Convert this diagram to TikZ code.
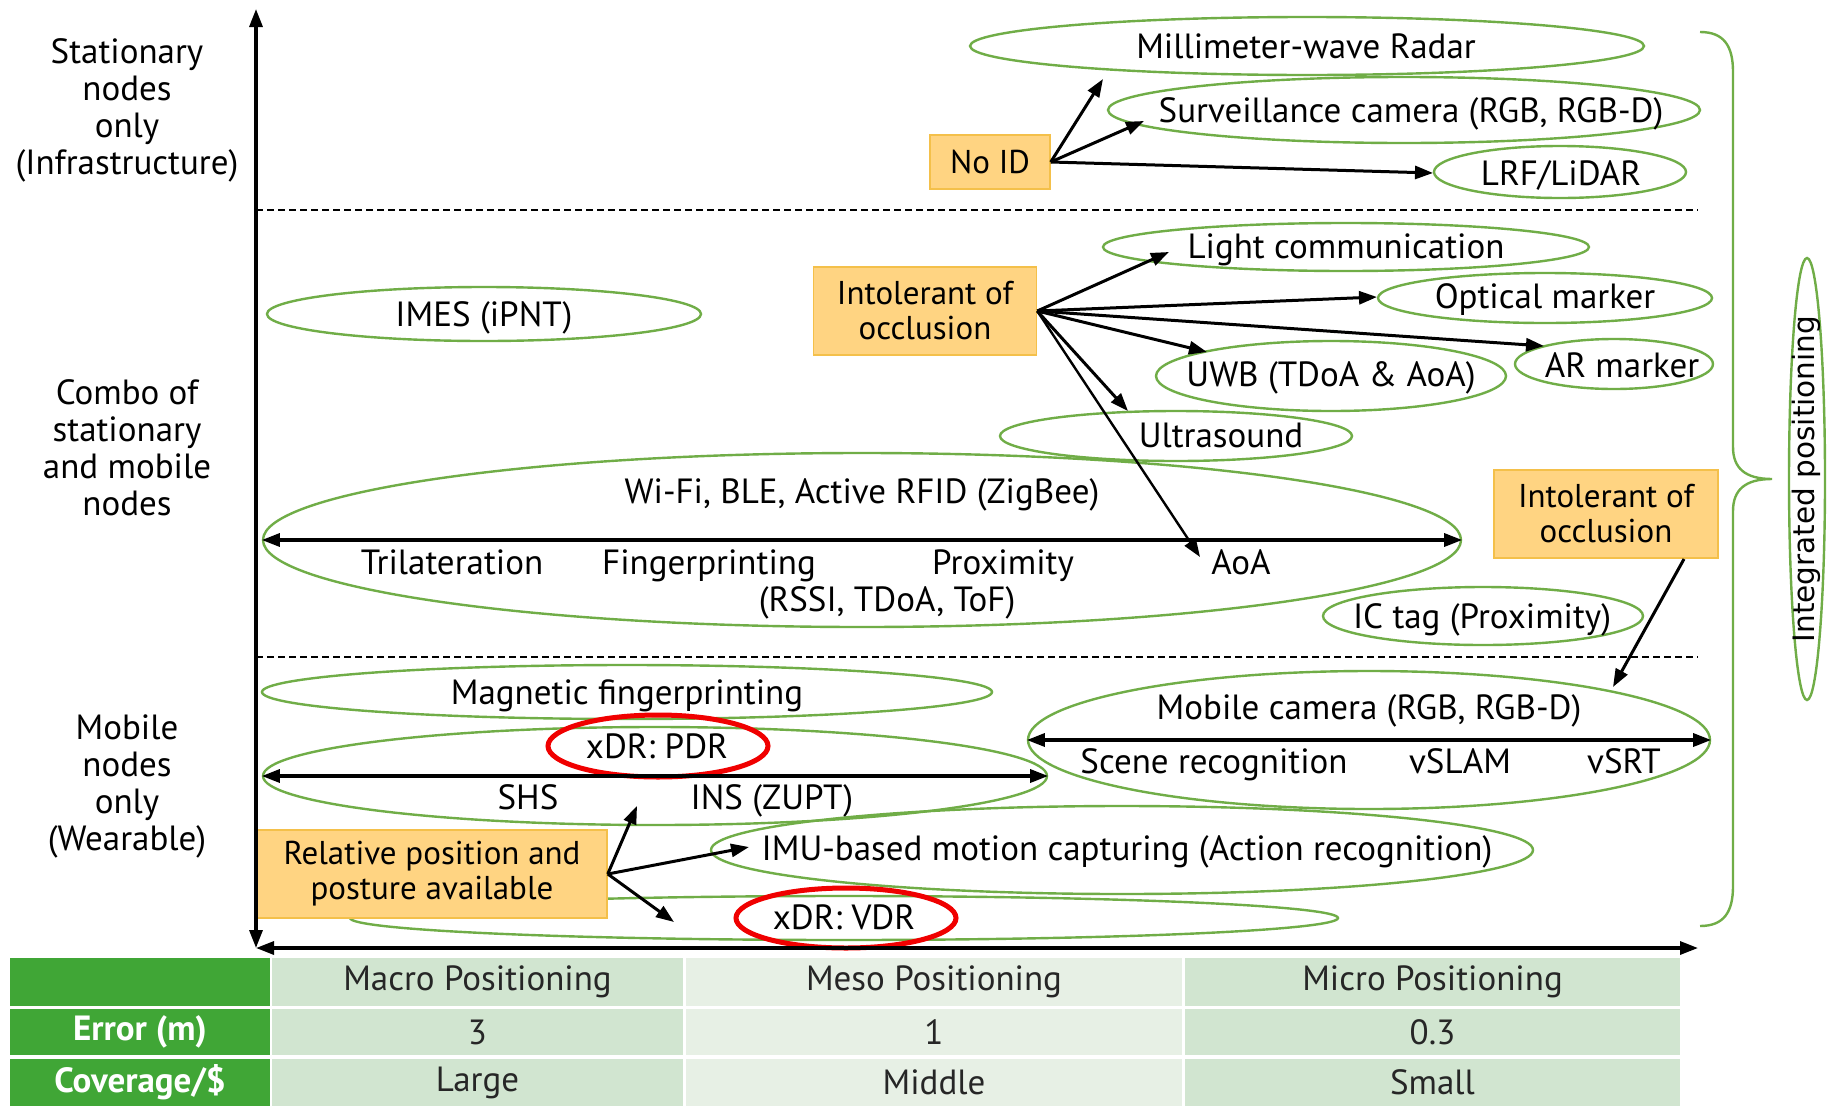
\documentclass[tikz,border=0pt]{standalone}
\usepackage{fontspec}
\setmainfont{PT Sans}
\newfontfamily\vfont{DejaVu Sans}
\usetikzlibrary{arrows.meta,shapes.geometric}
\definecolor{ogreen}{HTML}{70AD47}
\definecolor{boxfill}{HTML}{FFD482}
\definecolor{boxdraw}{HTML}{F4C04A}
\definecolor{tgreen}{HTML}{40A636}
\definecolor{tcellA}{HTML}{D1E5D0}
\definecolor{tcellB}{HTML}{E7F0E5}
\definecolor{redring}{HTML}{F00000}
\definecolor{ttext}{HTML}{262626}
\newcommand\mainsz{\fontsize{35}{37}\selectfont}
\newcommand\boxsz{\fontsize{33}{35}\selectfont}
\newcommand\vertsz{\fontsize{29.5}{34}\selectfont}
\begin{document}
\begin{tikzpicture}[x=1pt,y=-1pt,
  oval/.style={draw=ogreen,line width=2.4pt,ellipse,inner sep=0pt},
  redoval/.style={draw=redring,line width=5pt,ellipse,inner sep=0pt},
  lbl/.style={inner sep=0pt,font=\mainsz,align=center},
  txt/.style={inner sep=0pt,font=\mainsz,text height=24pt,text depth=0pt},
  obox/.style={fill=boxfill,draw=boxdraw,line width=1.5pt,inner sep=0pt,align=center,font=\boxsz},
  conn/.style={-{Triangle[length=18pt,width=13pt]},line width=3pt},
  dbl/.style={{Triangle[length=18pt,width=13pt]}-{Triangle[length=18pt,width=13pt]},line width=3.2pt},
  sep/.style={dashed,dash pattern=on 7pt off 4pt,line width=2pt},
  cellG/.style={fill=tgreen,inner sep=0pt,text=white,font=\mainsz\bfseries},
  cellA/.style={fill=tcellA,inner sep=0pt,text=ttext,font=\mainsz},
  cellB/.style={fill=tcellB,inner sep=0pt,text=ttext,font=\mainsz}]
\useasboundingbox[fill=white] (0,0) rectangle (1839,1106);

% ---------- left labels ----------
\node[lbl] (lab1) at (127,110) {Stationary\\nodes\\only\\(Infrastructure)};
\node[lbl] (lab2) at (127,448) {Combo of\\stationary\\and mobile\\nodes};
\node[lbl] (lab3) at (127,786) {Mobile\\nodes\\only\\(Wearable)};

% ---------- ellipses ----------
\node[oval,minimum width=674pt,minimum height=58pt] (radar) at (1307,46) {};
\node[oval,minimum width=592pt,minimum height=66pt] (surv) at (1404,110) {};
\node[oval,minimum width=252pt,minimum height=52pt] (lidar) at (1560,172) {};
\node[oval,minimum width=486pt,minimum height=48pt] (light) at (1346,247) {};
\node[oval,minimum width=334pt,minimum height=50pt] (optic) at (1545,298) {};
\node[oval,minimum width=198pt,minimum height=50pt] (armk) at (1614,364) {};
\node[oval,minimum width=350pt,minimum height=70pt] (uwb) at (1331,376) {};
\node[oval,minimum width=352pt,minimum height=50pt] (ultra) at (1176,436) {};
\node[oval,minimum width=434pt,minimum height=54pt] (imes) at (484,314) {};
\node[oval,minimum width=1198pt,minimum height=174pt] (wifi) at (862,540) {};
\node[oval,minimum width=320pt,minimum height=58pt] (ictag) at (1483,616) {};
\node[oval,minimum width=730pt,minimum height=54pt] (magn) at (627,692) {};
\node[oval,minimum width=682pt,minimum height=138pt] (mcam) at (1369,740) {};
\node[oval,minimum width=784pt,minimum height=98pt] (pdr) at (655,776) {};
\node[oval,minimum width=822pt,minimum height=88pt] (imu) at (1122,850) {};
\node[oval,minimum width=988pt,minimum height=44pt] (vdr) at (844,918) {};
\node[oval,minimum width=36pt,minimum height=442pt] (integ) at (1807,479) {};

% ---------- ellipse texts ----------
\node[txt] (radart) at (1306,46) {Millimeter-wave Radar};
\node[txt] (survt) at (1411,110) {Surveillance camera (RGB, RGB-D)};
\node[txt] (lidart) at (1561,173) {LRF/LiDAR};
\node[txt] (lightt) at (1346,246) {Light communication};
\node[txt] (optict) at (1545,296) {Optical marker};
\node[txt] (armkt) at (1622,365) {AR marker};
\node[txt] (uwbt) at (1331,374) {UWB (TDoA \& AoA)};
\node[txt] (ultrat) at (1221,435) {Ultrasound};
\node[txt] (imest) at (484,314) {IMES (iPNT)};
\node[txt] (wifit) at (862,491) {Wi-Fi, BLE, Active RFID (ZigBee)};
\node[txt] (trit) at (452,562) {Trilateration};
\node[txt] (fpt) at (709,562) {Fingerprinting};
\node[txt] (proxt) at (1003,562) {Proximity};
\node[txt] (aoat) at (1241,562) {AoA};
\node[txt] (rssit) at (887,599) {(RSSI, TDoA, ToF)};
\node[txt] (ictagt) at (1482,616) {IC tag (Proximity)};
\node[txt] (magnt) at (627,692) {Magnetic fingerprinting};
\node[txt] (mcamt) at (1369,707) {Mobile camera (RGB, RGB-D)};
\node[txt] (scenet) at (1214,761) {Scene recognition};
\node[txt] (vslamt) at (1460,761) {vSLAM};
\node[txt] (vsrtt) at (1624,761) {vSRT};
\node[txt] (pdrt) at (657,746) {xDR: PDR};
\node[txt] (shst) at (528,797) {SHS};
\node[txt] (inst) at (772,797) {INS (ZUPT)};
\node[txt] (imut) at (1127,848) {IMU-based motion capturing (Action recognition)};
\node[txt] (vdrt) at (844,917) {xDR: VDR};
\node[inner sep=0pt,font=\vfont\vertsz,rotate=90] (integt) at (1806,479) {Integrated positioning};

% ---------- red rings ----------
\node[redoval,minimum width=220pt,minimum height=62pt] (pdrring) at (658,746) {};
\node[redoval,minimum width=220pt,minimum height=60pt] (vdrring) at (846,918) {};

% ---------- orange boxes ----------
\node[obox,minimum width=120pt,minimum height=54pt] (noid) at (990,162) {No ID};
\node[obox,minimum width=223pt,minimum height=88pt] (occ1) at (925,311) {Intolerant of\\occlusion};
\node[obox,minimum width=224pt,minimum height=88pt] (occ2) at (1606,514) {Intolerant of\\occlusion};
\node[obox,minimum width=350pt,minimum height=88pt] (rel) at (432,874) {Relative position and\\posture available};

% ---------- arrow tip coordinates ----------
\coordinate (tRadar) at (1103,79);
\coordinate (tSurv) at (1144,121);
\coordinate (tLidar) at (1433,173);
\coordinate (tLight) at (1169,252);
\coordinate (tOptic) at (1377,297);
\coordinate (tAr) at (1544,346);
\coordinate (tUwb) at (1207,352);
\coordinate (tUltra) at (1128,411);
\coordinate (tAoa) at (1200,557);
\coordinate (sOcc2) at (1684,559);
\coordinate (tMcam) at (1613,687);
\coordinate (tIns) at (637,806);
\coordinate (tImu) at (749,847);
\coordinate (tVdr) at (674,922);

% ---------- connectors ----------
\draw[conn] (noid.east) -- (tRadar);
\draw[conn] (noid.east) -- (tSurv);
\draw[conn] (noid.east) -- (tLidar);
\draw[conn] (occ1.east) -- (tLight);
\draw[conn] (occ1.east) -- (tOptic);
\draw[conn] (occ1.east) -- (tAr);
\draw[conn] (occ1.east) -- (tUwb);
\draw[conn] (occ1.east) -- (tUltra);
\draw[conn,line width=2.4pt] (occ1.east) -- (tAoa);
\draw[conn] (sOcc2) -- (tMcam);
\draw[conn] (rel.east) -- (tIns);
\draw[conn] (rel.east) -- (tImu);
\draw[conn] (rel.east) -- (tVdr);

\draw[dbl] (wifi.west) -- (wifi.east);
\draw[dbl] (mcam.west) -- (mcam.east);
\draw[dbl] (pdr.west) -- (pdr.east);

% ---------- separators ----------
\coordinate (d1l) at (256,210); \coordinate (d1r) at (1698,210);
\coordinate (d2l) at (256,657); \coordinate (d2r) at (1698,657);
\draw[sep] (d1l) -- (d1r);
\draw[sep] (d2l) -- (d2r);

% ---------- axes ----------
\coordinate (ytop) at (256,9); \coordinate (ybot) at (256,948);
\coordinate (xlft) at (256,948); \coordinate (xrgt) at (1698,948);
\draw[dbl] (ytop) -- (ybot);
\draw[dbl] (xlft) -- (xrgt);

% ---------- brace ----------
\draw[ogreen,line width=2.4pt] (1700,32) .. controls (1724,32) and (1733,46) .. (1733,72)
  -- (1733,447) .. controls (1733,468) and (1745,479) .. (1772,479)
  .. controls (1745,479) and (1733,490) .. (1733,511)
  -- (1733,886) .. controls (1733,912) and (1724,926) .. (1700,926);

% ---------- table ----------
\node[cellG,minimum width=260pt,minimum height=48pt] (c00) at (140,982) {};
\node[cellA,minimum width=411pt,minimum height=48pt] (c01) at (477.5,982) {Macro Positioning};
\node[cellB,minimum width=496pt,minimum height=48pt] (c02) at (934,982) {Meso Positioning};
\node[cellA,minimum width=495pt,minimum height=48pt] (c03) at (1432.5,982) {Micro Positioning};
\node[cellG,minimum width=260pt,minimum height=46pt] (c10) at (140,1032) {Error (m)};
\node[cellA,minimum width=411pt,minimum height=46pt] (c11) at (477.5,1032) {3};
\node[cellB,minimum width=496pt,minimum height=46pt] (c12) at (934,1032) {1};
\node[cellA,minimum width=495pt,minimum height=46pt] (c13) at (1432.5,1032) {0.3};
\node[cellG,minimum width=260pt,minimum height=47pt] (c20) at (140,1082.5) {Coverage/\$};
\node[cellA,minimum width=411pt,minimum height=47pt] (c21) at (477.5,1082.5) {Large};
\node[cellB,minimum width=496pt,minimum height=47pt] (c22) at (934,1082.5) {Middle};
\node[cellA,minimum width=495pt,minimum height=47pt] (c23) at (1432.5,1082.5) {Small};
\end{tikzpicture}
\end{document}
